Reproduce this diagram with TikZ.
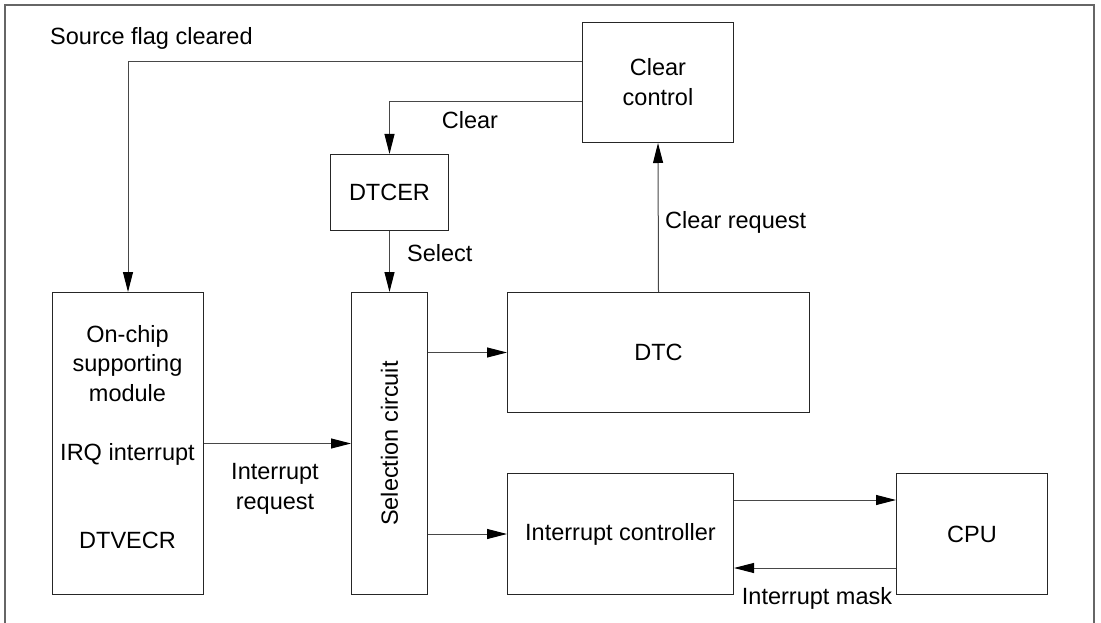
\documentclass[tikz,border=0pt]{standalone}
\usepackage{fontspec}
\setmainfont{Liberation Sans}
\usetikzlibrary{arrows.meta}
\newcommand\dgf{\fontsize{23.5}{30}\selectfont}
\newcommand\dgfm{\fontsize{23.5}{29.5}\selectfont}
\begin{document}
\begin{tikzpicture}[x=1pt,y=-1pt,
  blk/.style={draw=black!85, line width=1pt, inner sep=0pt, anchor=north west, font=\dgf, align=center},
  txt/.style={inner sep=0pt, font=\dgf, align=center},
  conn/.style={draw=black!72, line width=1pt, -{Triangle[length=20pt,width=10pt,color=black]}},
  frame/.style={draw=black!60, line width=1.3pt}
]
\useasboundingbox (0,0) rectangle (1101,623);
\draw[frame] (5,623) -- (5,5) -- (1094,5) -- (1094,623);

% boxes
\node[blk, minimum width=151pt, minimum height=120pt] (clr) at (582,22) {Clear\\control};
\node[blk, minimum width=118pt, minimum height=76pt] (dtcer) at (330,154) {DTCER};
\node[blk, minimum width=76pt, minimum height=302pt] (sel) at (351,292) {\rotatebox{90}{Selection circuit}};
\node[blk, minimum width=302pt, minimum height=120pt] (dtc) at (507,292) {DTC};
\node[blk, minimum width=226pt, minimum height=121pt] (ic) at (507,473) {Interrupt controller};
\node[blk, minimum width=151pt, minimum height=121pt] (cpu) at (896,473) {CPU};
\node[blk, minimum width=151pt, minimum height=302pt] (mod) at (52,292) {};

% texts inside the module box
\node[txt, font=\dgfm, anchor=base] (modname) at (127.5,401) {On-chip\\supporting\\module};
\node[txt, anchor=base] (irq) at (127.5,460) {IRQ interrupt};
\node[txt, anchor=base] (vec) at (127.5,548) {DTVECR};

% labels
\node[txt, anchor=base west] (sfc) at (50,45) {Source flag cleared};
\node[txt, anchor=base] (clrlbl) at (470,129) {Clear};
\node[txt, anchor=base west] (sellbl) at (407,261) {Select};
\node[txt, anchor=base west] (crq) at (665,228) {Clear request};
\node[txt, anchor=base] (irqlbl) at (275,509) {Interrupt\\request};
\node[txt, anchor=base] (mask) at (817,604) {Interrupt mask};

% connectors
\draw[conn] ([yshift=-40pt]clr.north west) -| (mod.north);
\draw[conn] ([yshift=-80pt]clr.north west) -| (dtcer.north);
\draw[conn] (dtcer.south) -- (sel.north);
\draw[conn] (dtc.north) -- (clr.south);
\draw[conn] (sel.east |- dtc.west) -- (dtc.west);
\draw[conn] (sel.east |- ic.west) -- (ic.west);
\draw[conn] (mod.east) -- (sel.west);
\draw[conn] ([yshift=-27pt]ic.north east) -- ([yshift=-27pt]cpu.north west);
\draw[conn] ([yshift=-95pt]cpu.north west) -- ([yshift=-95pt]ic.north east);
\end{tikzpicture}
\end{document}
